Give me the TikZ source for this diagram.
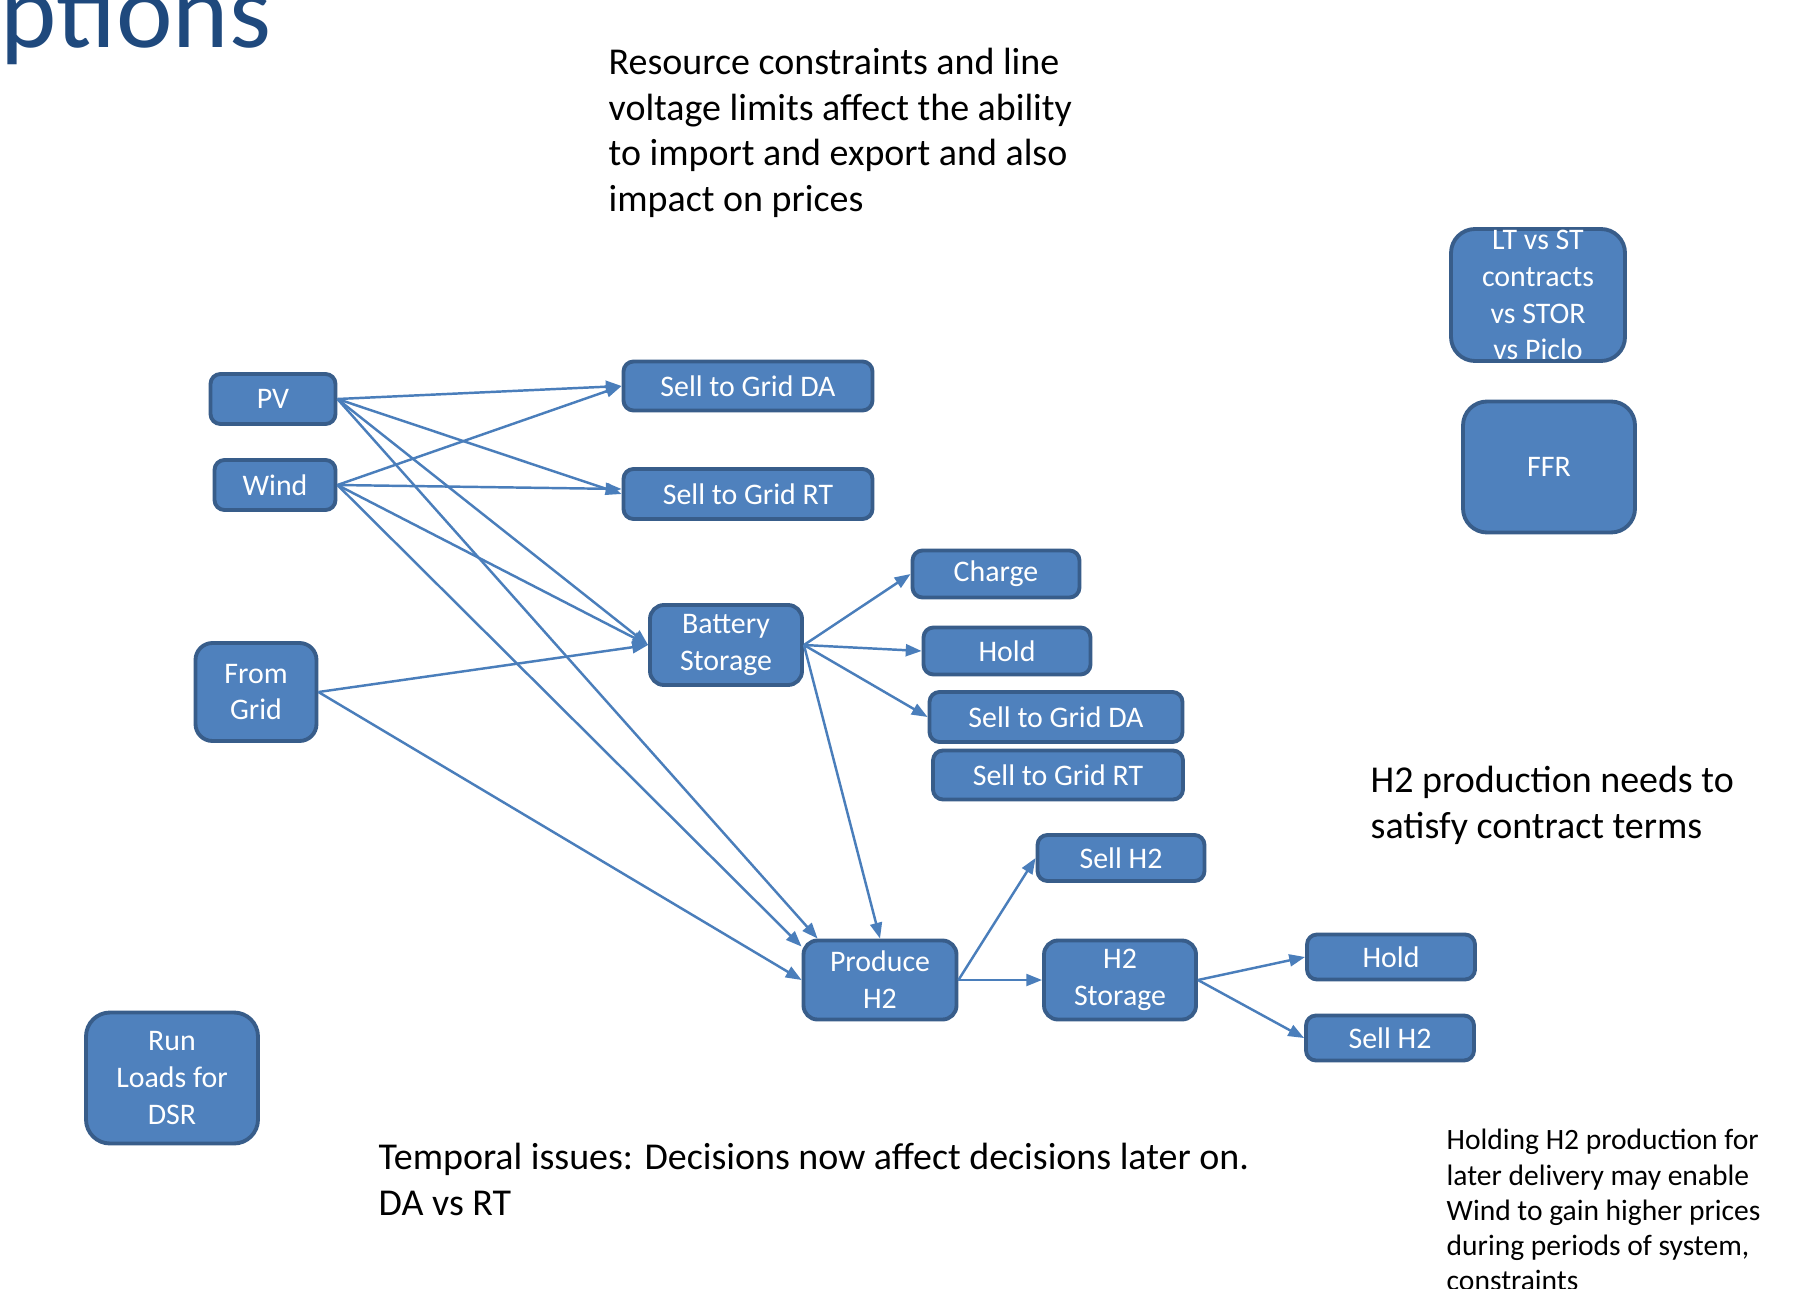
\documentclass[tikz,border=0pt]{standalone}
\usepackage{fontspec}
\setmainfont{Carlito}
\usepackage{xcolor}
\usepackage{tikz}
\usetikzlibrary{arrows.meta}
\definecolor{boxfill}{HTML}{4F81BD}
\definecolor{boxline}{HTML}{385D8A}
\definecolor{linkblue}{HTML}{4A7EBB}
\definecolor{titleblue}{HTML}{1F497D}
\tikzstyle{box}=[fill=boxfill, draw=boxline, line width=1.1pt, rectangle, rounded corners=0.1cm, text=white, align=center, inner sep=0pt, font=\fontsize{8.5}{10.5}\selectfont]
\tikzstyle{big box}=[box, rounded corners=0.24cm]
\tikzstyle{flow}=[-{Triangle[length=4.5pt, width=3.4pt]}, draw=linkblue, line width=0.7pt]
\tikzstyle{note}=[anchor=base west, inner sep=0pt, align=left, font=\fontsize{10.8}{12.95}\selectfont]
\pgfdeclarelayer{nodelayer}
\pgfdeclarelayer{edgelayer}
\pgfsetlayers{main,nodelayer,edgelayer}

\begin{document}
\begin{tikzpicture}
	\path [use as bounding box, fill=white] (0, 0) rectangle (18.05, -12.88);
	% texts (base = last line)
	\node [anchor=base west, inner sep=0pt, text=titleblue, font=\fontsize{30.5}{36}\selectfont] (t0) at (0, -0.48) {ptions};
	\node [style=note] (t1) at (6.08, -2.115) {Resource constraints and line\\voltage limits affect the ability\\to import and export and also\\impact on prices};
	\node [style=note] (t2) at (13.70, -8.38) {H2 production needs to\\satisfy contract terms};
	\node [style=note] (t3) at (3.78, -12.155) {Temporal issues: Decisions now affect decisions later on.\\DA vs RT};
	\node [style=note, font=\fontsize{8.4}{9.96}\selectfont] (t4) at (14.46, -12.90) {Holding H2 production for\\later delivery may enable\\Wind to gain higher prices\\during periods of system,\\constraints};
	\begin{pgfonlayer}{nodelayer}
		\node [style=box, minimum width=1.25cm, minimum height=0.50cm] (0) at (2.73, -3.99) {PV};
		\node [style=box, minimum width=1.21cm, minimum height=0.50cm] (1) at (2.75, -4.85) {Wind};
		\node [style=box, rounded corners=0.17cm, minimum width=1.21cm, minimum height=0.98cm] (2) at (2.56, -6.92) {From\\Grid};
		\node [style=big box, minimum width=1.72cm, minimum height=1.31cm] (3) at (1.72, -10.78) {Run\\Loads for\\DSR};
		\node [style=box, minimum width=2.49cm, minimum height=0.49cm] (4) at (7.48, -3.86) {Sell to Grid DA};
		\node [style=box, minimum width=2.49cm, minimum height=0.50cm] (5) at (7.48, -4.94) {Sell to Grid RT};
		\node [style=box, rounded corners=0.14cm, minimum width=1.52cm, minimum height=0.80cm] (6) at (7.26, -6.45) {Battery\\Storage};
		\node [style=box, minimum width=1.67cm, minimum height=0.47cm] (7) at (9.96, -5.74) {Charge};
		\node [style=box, minimum width=1.67cm, minimum height=0.47cm] (8) at (10.07, -6.51) {Hold};
		\node [style=box, minimum width=2.53cm, minimum height=0.50cm] (9) at (10.56, -7.17) {Sell to Grid DA};
		\node [style=box, minimum width=2.50cm, minimum height=0.49cm] (10) at (10.58, -7.75) {Sell to Grid RT};
		\node [style=box, minimum width=1.67cm, minimum height=0.46cm] (11) at (11.21, -8.58) {Sell H2};
		\node [style=box, rounded corners=0.14cm, minimum width=1.53cm, minimum height=0.79cm] (12) at (8.80, -9.80) {Produce\\H2};
		\node [style=box, rounded corners=0.14cm, minimum width=1.52cm, minimum height=0.79cm] (13) at (11.20, -9.80) {H2\\Storage};
		\node [style=box, minimum width=1.68cm, minimum height=0.45cm] (14) at (13.91, -9.57) {Hold};
		\node [style=box, minimum width=1.68cm, minimum height=0.45cm] (15) at (13.90, -10.38) {Sell H2};
		\node [style=big box, minimum width=1.74cm, minimum height=1.32cm] (16) at (15.38, -2.95) {LT vs ST\\contracts\\vs STOR\\vs Piclo};
		\node [style=big box, minimum width=1.72cm, minimum height=1.31cm] (17) at (15.49, -4.67) {FFR};
	\end{pgfonlayer}
	\begin{pgfonlayer}{edgelayer}
		\draw [style=flow] (0.east) to (4.west);
		\draw [style=flow] (0.east) to (5.west);
		\draw [style=flow] (0.east) to (6.west);
		\draw [style=flow] (0.east) to ([xshift=0.16cm]12.north west);
		\draw [style=flow] (1.east) to (4.west);
		\draw [style=flow] (1.east) to ([yshift=0.05cm]5.west);
		\draw [style=flow] (1.east) to (6.west);
		\draw [style=flow] (1.east) to ([yshift=-0.08cm]12.north west);
		\draw [style=flow] (2.east) to (6.west);
		\draw [style=flow] (2.east) to (12.west);
		\draw [style=flow] (6.east) to (7.west);
		\draw [style=flow] (6.east) to (8.west);
		\draw [style=flow] (6.east) to (9.west);
		\draw [style=flow] (6.east) to (12.north);
		\draw [style=flow] (12.east) to (11.west);
		\draw [style=flow] (12.east) to (13.west);
		\draw [style=flow] (13.east) to (14.west);
		\draw [style=flow] (13.east) to (15.west);
	\end{pgfonlayer}
\end{tikzpicture}
\end{document}
